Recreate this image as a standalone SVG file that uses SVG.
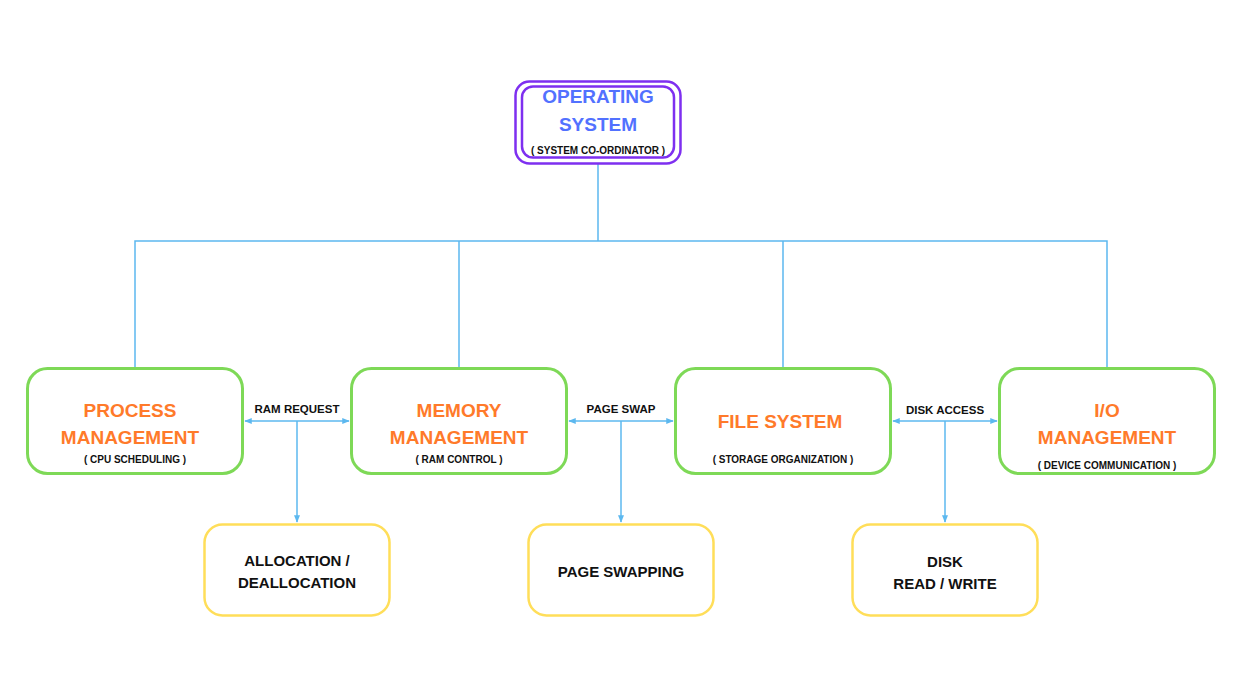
<svg xmlns="http://www.w3.org/2000/svg" width="1244" height="700" viewBox="0 0 1244 700">
<style>
.g{fill:#fff;stroke:#7ed957;stroke-width:3}
.y{fill:#fff;stroke:#ffde59;stroke-width:2.5}
.p{fill:none;stroke:#7e2ff0;stroke-width:2.5}
.c{fill:none;stroke:#5cb8ef;stroke-width:1.5}
.t{font-family:"Liberation Sans",Arial,sans-serif;font-weight:bold;text-anchor:middle}
.o{fill:#ff7a2a;font-size:19px}
.b{fill:#5271ff;font-size:19px}
.s{fill:#111;font-size:10px}
.k{fill:#111;font-size:15px}
.l{fill:#111;font-size:11.5px}
</style>
<defs><marker id="a" viewBox="0 0 10 10" refX="9" refY="5" markerWidth="5" markerHeight="5" orient="auto-start-reverse"><path d="M0,1 L10,5 L0,9z" fill="#5cb8ef"/></marker></defs>
<rect width="1244" height="700" fill="#fff"/>
<g id="connectors">
<path class="c" d="M598,163 V241 M135,368 V241 H1107 V368 M459,241 V368 M783,241 V368"/>
<path class="c" d="M245,421 H349" marker-start="url(#a)" marker-end="url(#a)"/>
<path class="c" d="M297,421 V522" marker-end="url(#a)"/>
<path class="c" d="M569,421 H673" marker-start="url(#a)" marker-end="url(#a)"/>
<path class="c" d="M621,421 V522" marker-end="url(#a)"/>
<path class="c" d="M893,421 H997" marker-start="url(#a)" marker-end="url(#a)"/>
<path class="c" d="M945,421 V522" marker-end="url(#a)"/>
<text class="t l" x="297" y="413">RAM REQUEST</text>
<text class="t l" x="621" y="413">PAGE SWAP</text>
<text class="t l" x="945" y="414">DISK ACCESS</text>
</g>
<g id="os">
<rect class="p" x="515.5" y="81.5" width="165" height="82" rx="14"/>
<rect class="p" x="522" y="86.5" width="152" height="71" rx="11"/>
<text class="t b" x="598" y="103">OPERATING</text>
<text class="t b" x="598" y="131">SYSTEM</text>
<text class="t s" x="598" y="154">( SYSTEM CO-ORDINATOR )</text>
</g>
<g id="process">
<rect class="g" x="27.5" y="368.5" width="215" height="105" rx="20"/>
<text class="t o" x="130" y="417">PROCESS</text>
<text class="t o" x="130" y="444">MANAGEMENT</text>
<text class="t s" x="135" y="463">( CPU SCHEDULING )</text>
</g>
<g id="memory">
<rect class="g" x="351.5" y="368.5" width="215" height="105" rx="20"/>
<text class="t o" x="459" y="417">MEMORY</text>
<text class="t o" x="459" y="444">MANAGEMENT</text>
<text class="t s" x="459" y="463">( RAM CONTROL )</text>
</g>
<g id="file">
<rect class="g" x="675.5" y="368.5" width="215" height="105" rx="20"/>
<text class="t o" x="780" y="428">FILE SYSTEM</text>
<text class="t s" x="783" y="463">( STORAGE ORGANIZATION )</text>
</g>
<g id="io">
<rect class="g" x="999.5" y="368.5" width="215" height="105" rx="20"/>
<text class="t o" x="1107" y="417">I/O</text>
<text class="t o" x="1107" y="444">MANAGEMENT</text>
<text class="t s" x="1107" y="469">( DEVICE COMMUNICATION )</text>
</g>
<g id="alloc">
<rect class="y" x="204.5" y="524.5" width="185" height="91" rx="18"/>
<text class="t k" x="297" y="566">ALLOCATION /</text>
<text class="t k" x="297" y="588">DEALLOCATION</text>
</g>
<g id="swap">
<rect class="y" x="528.5" y="524.5" width="185" height="91" rx="18"/>
<text class="t k" x="621" y="577">PAGE SWAPPING</text>
</g>
<g id="disk">
<rect class="y" x="852.5" y="524.5" width="185" height="91" rx="18"/>
<text class="t k" x="945" y="567">DISK</text>
<text class="t k" x="945" y="589">READ / WRITE</text>
</g>
</svg>
